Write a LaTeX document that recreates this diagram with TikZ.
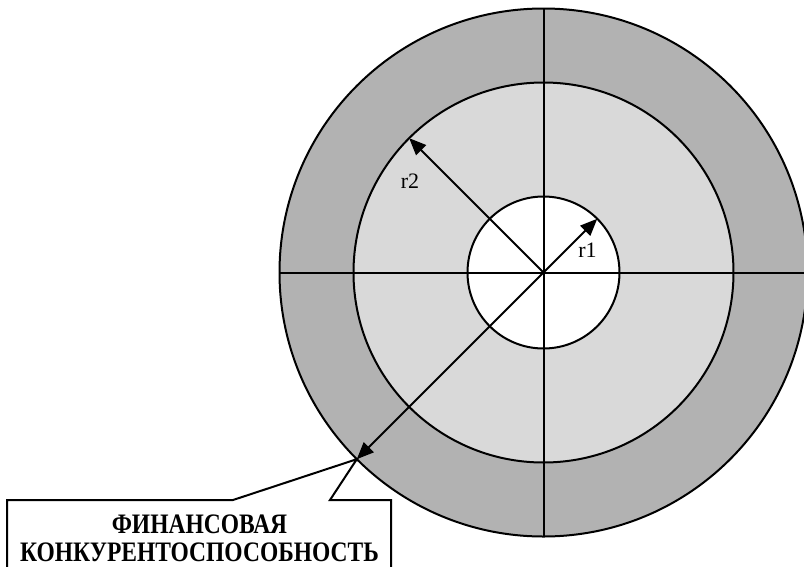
\documentclass[tikz,border=0pt]{standalone}
\usepackage{fontspec}
\setmainfont{Liberation Serif}[BoldFont={Liberation Serif Bold}]
\usetikzlibrary{arrows.meta}
\definecolor{ringdark}{RGB}{178,178,178}
\definecolor{ringlight}{RGB}{217,217,217}

\begin{document}
\begin{tikzpicture}[
    x=1pt, y=-1pt,
    ring/.style={
        draw,
        circle,
        line width=2pt,
        inner sep=0pt,
        outer sep=0pt
    },
    axis/.style={line width=2pt},
    radius arrow/.style={-{Triangle[length=17pt,width=14pt]}, line width=2pt},
    rlabel/.style={font=\fontsize{22}{24}\selectfont, inner sep=0pt}
]

\useasboundingbox (0,0) rectangle (804,566);

% ------------------------
% Rings
% ------------------------
\coordinate (c) at (543.5,272.5);
\node[ring, fill=ringdark, minimum size=528pt] (outer) at (c) {};
\node[ring, fill=ringlight, minimum size=380pt] (mid) at (c) {};
\node[ring, fill=white, minimum size=152pt] (inner) at (c) {};

% ------------------------
% Cross lines
% ------------------------
\draw[axis] (outer.north) -- (outer.south);
\draw[axis] (outer.west) -- (outer.east);

% ------------------------
% Radii
% ------------------------
\draw[radius arrow] (c) -- (inner.45);
\draw[radius arrow] (c) -- (mid.135);
\draw[radius arrow] (c) -- (outer.225);

\node[rlabel] (r1) at (587.5,250) {r1};
\node[rlabel] (r2) at (410,181.5) {r2};

% ------------------------
% Callout
% ------------------------
\coordinate (tip) at (outer.225);
\draw[line width=2pt, fill=white]
    (7,580) -- (7,500) -- (233,500) -- (tip) -- (330,500) -- (391,500) -- (391,580);

\node[
    font=\fontsize{23.5}{28}\selectfont\bfseries,
    align=center,
    anchor=base,
    inner sep=0pt
] (title) at (199.5,561) {
\scalebox{1}[1.2]{ФИНАНСОВАЯ}\\
\scalebox{1}[1.2]{КОНКУРЕНТОСПОСОБНОСТЬ}
};

\end{tikzpicture}
\end{document}
